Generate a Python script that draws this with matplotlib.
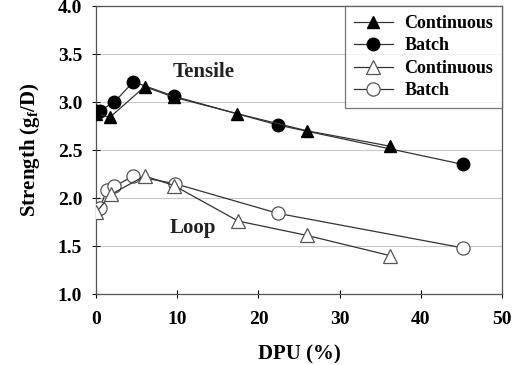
import matplotlib
matplotlib.use('Agg')
from matplotlib import pyplot as plt

# Tensile strength
tens_cont_x = [0.0, 1.7, 6.0, 9.6, 17.3, 26.0, 36.2]
tens_cont_y = [2.88, 2.84, 3.16, 3.05, 2.88, 2.70, 2.54]
tens_batch_x = [0.0, 0.5, 2.25, 4.6, 9.6, 22.4, 45.2]
tens_batch_y = [2.91, 2.91, 3.00, 3.21, 3.06, 2.76, 2.35]

# Loop strength
loop_cont_x = [0.0, 1.9, 6.0, 9.6, 17.5, 26.0, 36.2]
loop_cont_y = [1.85, 2.04, 2.23, 2.13, 1.76, 1.61, 1.40]
loop_batch_x = [0.1, 0.5, 1.3, 2.25, 4.6, 9.7, 22.4, 45.2]
loop_batch_y = [1.87, 1.90, 2.08, 2.12, 2.23, 2.15, 1.84, 1.48]

plt.rcParams['font.family'] = ['Liberation Serif', 'DejaVu Serif']
plt.rcParams['font.weight'] = 'bold'
plt.rcParams['mathtext.fontset'] = 'custom'
plt.rcParams['mathtext.rm'] = 'Liberation Serif:bold'
plt.rcParams['mathtext.it'] = 'Liberation Serif:bold'

fig = plt.figure(figsize=(5.23, 3.65), dpi=100)
ax = fig.add_axes([0.1836, 0.1945, 0.7764, 0.789])

lc = '#333333'
ax.plot(tens_cont_x, tens_cont_y, color=lc, lw=0.9, marker='^', ms=9,
        mfc='black', mec='black', label='Continuous', zorder=4)
ax.plot(tens_batch_x, tens_batch_y, color=lc, lw=0.9, marker='o', ms=9,
        mfc='black', mec='black', label='Batch', zorder=3)
ax.plot(loop_cont_x, loop_cont_y, color=lc, lw=0.9, marker='^', ms=9.5,
        mfc='white', mec='#555555', mew=0.9, label='Continuous', zorder=4)
ax.plot(loop_batch_x, loop_batch_y, color=lc, lw=0.9, marker='o', ms=9.5,
        mfc='white', mec='#555555', mew=0.9, label='Batch', zorder=3)

ax.set_xlim(0, 50)
ax.set_ylim(1.0, 4.0)
ax.set_xticks([0, 10, 20, 30, 40, 50])
ax.set_yticks([1.0, 1.5, 2.0, 2.5, 3.0, 3.5, 4.0])
ax.set_yticklabels(['1.0', '1.5', '2.0', '2.5', '3.0', '3.5', '4.0'])
ax.yaxis.grid(True, color='#c8c8c8', lw=0.8)
ax.set_axisbelow(True)
ax.tick_params(direction='inout', length=6, width=0.8, labelsize=14, pad=7)
ax.tick_params(axis='x', pad=9)
for s in ax.spines.values():
    s.set_color('#555555')
    s.set_linewidth(0.9)

ax.text(13.3, 3.31, 'Tensile', fontsize=15, fontweight='bold', ha='center', va='center', color='#222222')
ax.text(11.9, 1.69, 'Loop', fontsize=15, fontweight='bold', ha='center', va='center', color='#222222')

ax.set_xlabel('DPU (%)', fontsize=15, fontweight='bold', labelpad=12)
ax.set_ylabel('Strength (g$_f$/D)', fontsize=15, fontweight='bold', labelpad=11)

leg = ax.legend(loc='upper right', fontsize=13, frameon=True, fancybox=False,
                borderaxespad=0, handlelength=2.2, labelspacing=0.3,
                borderpad=0.5, handletextpad=0.6)
leg.get_frame().set_edgecolor('#555555')
leg.get_frame().set_linewidth(0.9)

plt.savefig('out.png', dpi=100)
